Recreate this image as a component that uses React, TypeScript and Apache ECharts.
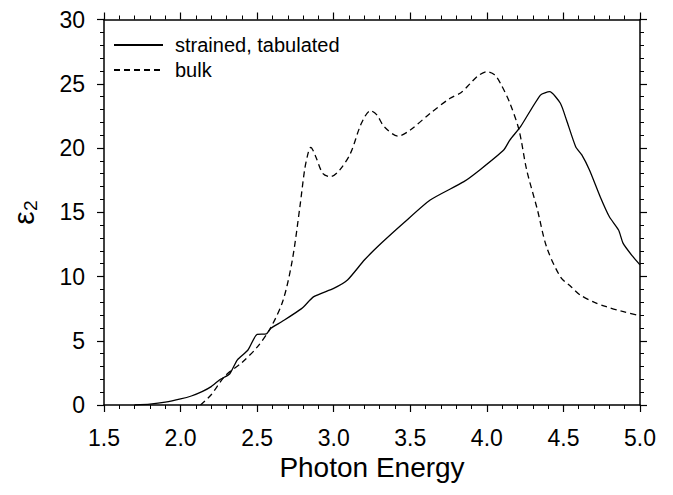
import React, { useEffect, useRef } from "react";
import * as echarts from "echarts";

const seriesNames = ["strained, tabulated", "bulk"];

const strainedE = [1.70, 1.80, 1.90, 2.00, 2.07, 2.14, 2.20, 2.26, 2.32, 2.37, 2.44, 2.50, 2.56, 2.59, 2.66, 2.79, 2.87, 3.00, 3.09, 3.20, 3.31, 3.46, 3.63, 3.85, 3.96, 4.11, 4.15, 4.22, 4.35, 4.41, 4.48, 4.52, 4.58, 4.62, 4.67, 4.74, 4.80, 4.86, 4.89, 4.95, 5.00];
const strainedEps = [0, 0.07, 0.22, 0.47, 0.70, 1.04, 1.43, 2.0, 2.41, 3.5, 4.28, 5.5, 5.53, 5.97, 6.48, 7.5, 8.43, 9.08, 9.73, 11.28, 12.58, 14.2, 15.95, 17.38, 18.35, 19.84, 20.62, 21.66, 24.12, 24.38, 23.48, 22.18, 20.1, 19.46, 18.29, 16.21, 14.65, 13.62, 12.58, 11.6, 10.9];

const bulkE = [2.13, 2.20, 2.29, 2.40, 2.50, 2.59, 2.67, 2.73, 2.78, 2.81, 2.835, 2.85, 2.88, 2.93, 2.98, 3.04, 3.11, 3.18, 3.24, 3.28, 3.33, 3.42, 3.50, 3.63, 3.76, 3.83, 3.89, 3.94, 4.00, 4.05, 4.09, 4.15, 4.21, 4.26, 4.33, 4.39, 4.48, 4.55, 4.61, 4.70, 4.78, 4.88, 5.00];
const bulkEps = [0, 0.8, 2.26, 3.3, 4.5, 6.05, 8.17, 11.3, 15.5, 18.3, 19.7, 20.05, 19.4, 18.0, 17.77, 18.3, 19.6, 21.9, 22.9, 22.6, 21.66, 20.93, 21.4, 22.7, 23.87, 24.3, 25.0, 25.6, 25.94, 25.7, 25.0, 23.5, 21.4, 18.3, 15.2, 12.3, 9.98, 9.2, 8.56, 8.0, 7.65, 7.3, 6.95];

const xTitle = "Photon Energy";
const yTitle = "ε₂";

const zip = (a: number[], b: number[]) => a.map((v, i) => [v, b[i]]);

const FONT = "Liberation Sans, Arial, sans-serif";

export default function App() {
  const ref = useRef<HTMLDivElement>(null);
  useEffect(() => {
    if (!ref.current) return;
    const chart = echarts.init(ref.current, undefined, { renderer: "svg" });
    const axisLine = { show: true, onZero: false, lineStyle: { color: "#000", width: 1.5 } };
    const xBase = {
      type: "value" as const,
      min: 1.5,
      max: 5,
      interval: 0.5,
      axisLine,
      axisTick: { show: true, inside: false, length: 7, lineStyle: { color: "#000", width: 1.2 } },
      minorTick: { show: true, splitNumber: 5, length: 4, lineStyle: { color: "#000", width: 1 } },
      splitLine: { show: false },
    };
    const yBase = {
      type: "value" as const,
      min: 0,
      max: 30,
      interval: 5,
      axisLine,
      axisTick: { show: true, inside: false, length: 7, lineStyle: { color: "#000", width: 1.2 } },
      minorTick: { show: true, splitNumber: 5, length: 4, lineStyle: { color: "#000", width: 1 } },
      splitLine: { show: false },
    };
    chart.setOption({
      animation: false,
      backgroundColor: "#fff",
      textStyle: { fontFamily: FONT },
      grid: { left: 102, right: 33, top: 19.5, bottom: 90 },
      legend: {
        orient: "vertical",
        left: 108,
        top: 30,
        itemWidth: 49,
        itemHeight: 10,
        itemGap: 5,
        data: seriesNames,
        itemStyle: { opacity: 0 },
        textStyle: { fontSize: 20, color: "#000", fontFamily: FONT, padding: [0, 0, 0, 7] },
      },
      xAxis: [
        {
          ...xBase,
          position: "bottom",
          name: xTitle,
          nameLocation: "middle",
          nameGap: 46,
          nameTextStyle: { fontSize: 28, color: "#000", fontFamily: FONT },
          axisLabel: {
            fontSize: 23,
            color: "#000",
            margin: 21,
            fontFamily: FONT,
            formatter: (v: number) => v.toFixed(1),
          },
        },
        { ...xBase, position: "top", axisLabel: { show: false } },
      ],
      yAxis: [
        {
          ...yBase,
          position: "left",
          name: yTitle,
          nameLocation: "middle",
          nameRotate: 90,
          nameGap: 66,
          nameTextStyle: { fontSize: 30, color: "#000", fontFamily: FONT },
          axisLabel: { fontSize: 23, color: "#000", margin: 19, fontFamily: FONT },
        },
        { ...yBase, position: "right", axisLabel: { show: false } },
      ],
      series: [
        {
          name: seriesNames[0],
          type: "line",
          data: zip(strainedE, strainedEps),
          symbol: "none",
          smooth: 0.2,
          lineStyle: { color: "#000", width: 1.3, type: "solid" },
          itemStyle: { color: "#000" },
        },
        {
          name: seriesNames[1],
          type: "line",
          data: zip(bulkE, bulkEps),
          symbol: "none",
          smooth: 0.3,
          lineStyle: { color: "#000", width: 1.3, type: [6, 4] },
          itemStyle: { color: "#000" },
        },
      ],
    });
    return () => chart.dispose();
  }, []);
  return <div ref={ref} style={{ width: 673, height: 495, position: "absolute", left: 0, top: 0 }} />;
}
